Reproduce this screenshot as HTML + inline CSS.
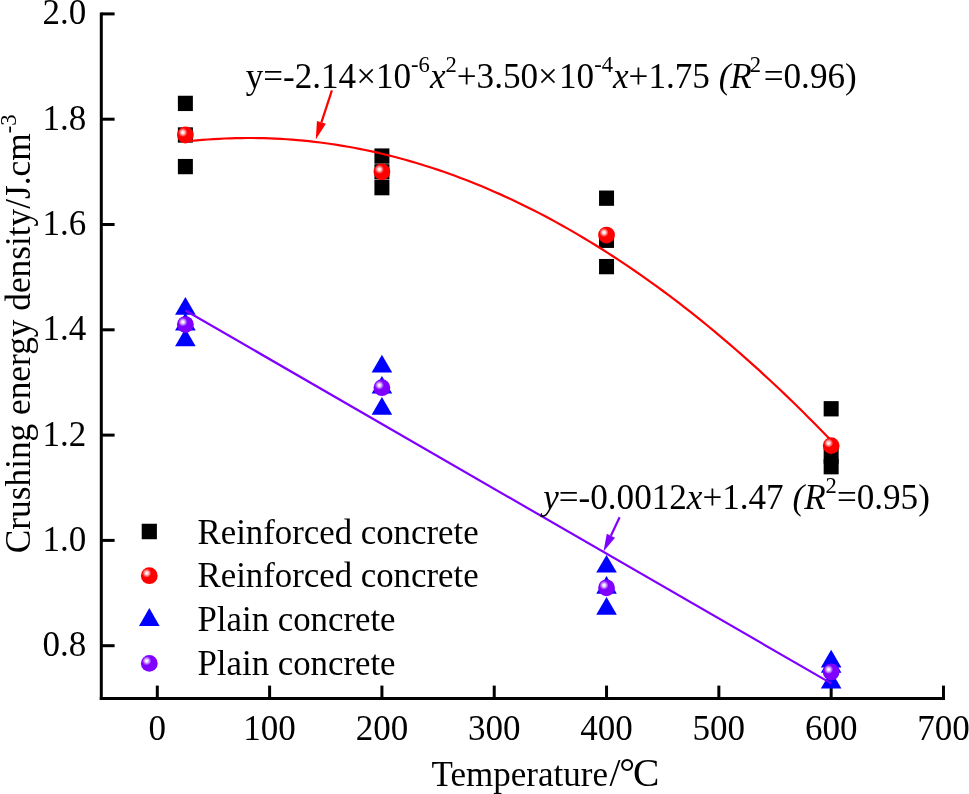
<!DOCTYPE html>
<html><head><meta charset="utf-8"><title>Crushing energy density vs temperature</title>
<style>
html,body{margin:0;padding:0;background:#fff;}
svg{display:block;will-change:transform;}
text{font-family:"Liberation Serif","Times New Roman",serif;font-size:35.0px;fill:#000;}
.i{font-style:italic;}
.s{font-size:22.6px;}
</style></head><body>
<svg width="969" height="794" viewBox="0 0 969 794">
<defs>
<radialGradient id="gr" cx="0.35" cy="0.35" r="0.27" fx="0.35" fy="0.35"><stop offset="0" stop-color="#fff"/><stop offset="0.3" stop-color="#ffe0e0"/><stop offset="1" stop-color="#f00"/></radialGradient>
<radialGradient id="gp" cx="0.35" cy="0.35" r="0.27" fx="0.35" fy="0.35"><stop offset="0" stop-color="#fff"/><stop offset="0.3" stop-color="#f0e0ff"/><stop offset="1" stop-color="#8000ff"/></radialGradient>
</defs>
<rect width="969" height="794" fill="#fff"/>

<g stroke="#000" stroke-width="3" fill="none" stroke-linecap="butt">
<path d="M101.3 12.4V700.1"/>
<path d="M99.8 698.6H945"/>
<path d="M101.3 13.90H114.6"/>
<path d="M101.3 119.20H114.6"/>
<path d="M101.3 224.50H114.6"/>
<path d="M101.3 329.80H114.6"/>
<path d="M101.3 435.10H114.6"/>
<path d="M101.3 540.40H114.6"/>
<path d="M101.3 645.70H114.6"/>
<path d="M157.30 698.6V685.6"/>
<path d="M269.61 698.6V685.6"/>
<path d="M381.92 698.6V685.6"/>
<path d="M494.23 698.6V685.6"/>
<path d="M606.54 698.6V685.6"/>
<path d="M718.85 698.6V685.6"/>
<path d="M831.16 698.6V685.6"/>
<path d="M943.47 698.6V685.6"/>
</g>
<text x="86.3" y="24.30" text-anchor="end">2.0</text>
<text x="86.3" y="129.60" text-anchor="end">1.8</text>
<text x="86.3" y="234.90" text-anchor="end">1.6</text>
<text x="86.3" y="340.20" text-anchor="end">1.4</text>
<text x="86.3" y="445.50" text-anchor="end">1.2</text>
<text x="86.3" y="550.80" text-anchor="end">1.0</text>
<text x="86.3" y="656.10" text-anchor="end">0.8</text>
<text x="157.30" y="740.4" text-anchor="middle">0</text>
<text x="269.61" y="740.4" text-anchor="middle">100</text>
<text x="381.92" y="740.4" text-anchor="middle">200</text>
<text x="494.23" y="740.4" text-anchor="middle">300</text>
<text x="606.54" y="740.4" text-anchor="middle">400</text>
<text x="718.85" y="740.4" text-anchor="middle">500</text>
<text x="831.16" y="740.4" text-anchor="middle">600</text>
<text x="943.47" y="740.4" text-anchor="middle">700</text>
<text x="431.6" y="785.9">Temperature<tspan style="font-size:39.5px" dy="0.4" dx="1.5">/<tspan dx="-1.2">°</tspan><tspan dx="-2">C</tspan></tspan></text>
<text transform="translate(30.4 553.2) rotate(-90)" style="font-size:35.3px">Crushing energy density/J.cm<tspan class="s" dy="-14.4">-3</tspan></text>
<rect x="177.88" y="95.75" width="15" height="15.3" fill="#000"/>
<rect x="177.88" y="127.34" width="15" height="15.3" fill="#000"/>
<rect x="177.88" y="158.94" width="15" height="15.3" fill="#000"/>
<rect x="374.42" y="148.41" width="15" height="15.3" fill="#000"/>
<rect x="374.42" y="164.20" width="15" height="15.3" fill="#000"/>
<rect x="374.42" y="180.00" width="15" height="15.3" fill="#000"/>
<rect x="599.04" y="190.53" width="15" height="15.3" fill="#000"/>
<rect x="599.04" y="232.64" width="15" height="15.3" fill="#000"/>
<rect x="599.04" y="258.97" width="15" height="15.3" fill="#000"/>
<rect x="823.66" y="401.12" width="15" height="15.3" fill="#000"/>
<rect x="823.66" y="448.51" width="15" height="15.3" fill="#000"/>
<rect x="823.66" y="459.04" width="15" height="15.3" fill="#000"/>
<path d="M185.38 296.94L195.68 314.64H175.08Z" fill="#00f"/>
<path d="M185.38 312.74L195.68 330.44H175.08Z" fill="#00f"/>
<path d="M185.38 328.53L195.68 346.23H175.08Z" fill="#00f"/>
<path d="M381.92 354.85L392.22 372.55H371.62Z" fill="#00f"/>
<path d="M381.92 375.91L392.22 393.61H371.62Z" fill="#00f"/>
<path d="M381.92 396.97L392.22 414.67H371.62Z" fill="#00f"/>
<path d="M606.54 554.93L616.84 572.62H596.24Z" fill="#00f"/>
<path d="M606.54 575.98L616.84 593.68H596.24Z" fill="#00f"/>
<path d="M606.54 597.04L616.84 614.74H596.24Z" fill="#00f"/>
<path d="M831.16 649.70L841.46 667.39H820.86Z" fill="#00f"/>
<path d="M831.16 654.96L841.46 672.66H820.86Z" fill="#00f"/>
<path d="M831.16 670.75L841.46 688.45H820.86Z" fill="#00f"/>
<polyline points="185.38,141.62 190.99,141.01 196.61,140.46 202.22,139.96 207.84,139.51 213.46,139.13 219.07,138.80 224.69,138.52 230.30,138.31 235.92,138.15 241.53,138.04 247.15,137.99 252.76,138.00 258.38,138.07 263.99,138.19 269.61,138.36 275.23,138.60 280.84,138.89 286.46,139.23 292.07,139.64 297.69,140.10 303.30,140.61 308.92,141.18 314.53,141.81 320.15,142.49 325.76,143.23 331.38,144.03 337.00,144.88 342.61,145.79 348.23,146.76 353.84,147.78 359.46,148.86 365.07,150.00 370.69,151.19 376.30,152.43 381.92,153.74 387.54,155.10 393.15,156.52 398.77,157.99 404.38,159.52 410.00,161.10 415.61,162.74 421.23,164.44 426.84,166.20 432.46,168.01 438.07,169.88 443.69,171.80 449.31,173.78 454.92,175.82 460.54,177.91 466.15,180.06 471.77,182.26 477.38,184.52 483.00,186.84 488.61,189.22 494.23,191.65 499.85,194.13 505.46,196.68 511.08,199.28 516.69,201.93 522.31,204.64 527.92,207.41 533.54,210.24 539.15,213.12 544.77,216.06 550.38,219.05 556.00,222.10 561.62,225.21 567.23,228.37 572.85,231.59 578.46,234.87 584.08,238.20 589.69,241.59 595.31,245.03 600.92,248.53 606.54,252.09 612.16,255.70 617.77,259.37 623.39,263.10 629.00,266.88 634.62,270.72 640.23,274.62 645.85,278.57 651.46,282.58 657.08,286.64 662.69,290.76 668.31,294.94 673.93,299.17 679.54,303.46 685.16,307.81 690.77,312.21 696.39,316.67 702.00,321.18 707.62,325.75 713.23,330.38 718.85,335.07 724.47,339.81 730.08,344.60 735.70,349.46 741.31,354.36 746.93,359.33 752.54,364.35 758.16,369.43 763.77,374.57 769.39,379.76 775.01,385.00 780.62,390.31 786.24,395.67 791.85,401.08 797.47,406.56 803.08,412.09 808.70,417.67 814.31,423.31 819.93,429.01 825.54,434.76 831.16,440.58" fill="none" stroke="#f00" stroke-width="2.2"/>
<path d="M185.4 310.5L831.2 683.4" stroke="#8000ff" stroke-width="2.2" fill="none"/>
<circle cx="185.38" cy="134.99" r="8.4" fill="url(#gr)"/>
<circle cx="381.92" cy="171.85" r="8.4" fill="url(#gr)"/>
<circle cx="606.54" cy="235.03" r="8.4" fill="url(#gr)"/>
<circle cx="831.16" cy="445.63" r="8.4" fill="url(#gr)"/>
<circle cx="185.38" cy="324.54" r="8.4" fill="url(#gp)"/>
<circle cx="381.92" cy="387.71" r="8.4" fill="url(#gp)"/>
<circle cx="606.54" cy="587.78" r="8.4" fill="url(#gp)"/>
<circle cx="831.16" cy="672.02" r="8.4" fill="url(#gp)"/>
<rect x="141.70" y="523.75" width="15.2" height="15.5" fill="#000"/>
<circle cx="149.30" cy="575.70" r="8.4" fill="url(#gr)"/>
<path d="M149.30 608.10L159.60 626.10H139.00Z" fill="#00f"/>
<circle cx="149.30" cy="663.40" r="8.4" fill="url(#gp)"/>
<text x="197.5" y="543.8" style="font-size:34.8px">Reinforced concrete</text>
<text x="197.5" y="587.4" style="font-size:34.8px">Reinforced concrete</text>
<text x="197.5" y="631.0" style="font-size:34.8px">Plain concrete</text>
<text x="197.5" y="674.6" style="font-size:34.8px">Plain concrete</text>
<text x="245.7" y="87.6" style="font-size:35.12px">y=-2.14×10<tspan class="s" dy="-16.1">-6</tspan><tspan class="i" dy="16.1">x</tspan><tspan class="s" dy="-16.1">2</tspan><tspan dy="16.1">+3.50×</tspan><tspan dx="1.2">10</tspan><tspan class="s" dy="-16.1">-4</tspan><tspan class="i" dy="16.1">x</tspan>+1.75 <tspan class="i">(R</tspan><tspan class="s" dy="-16.1" dx="-2">2</tspan><tspan dy="16.1" dx="2.7">=0.96)</tspan></text>
<text x="543.2" y="509" style="font-size:35.12px"><tspan class="i">y</tspan>=-0.0012<tspan class="i">x</tspan>+1.47 <tspan class="i">(R</tspan><tspan class="s" dy="-16.1">2</tspan><tspan dy="16.1">=0.95)</tspan></text>
<path d="M619.60 517.20L610.89 535.75" stroke="#8000ff" stroke-width="2.2" fill="none"/><path d="M603.50 551.50L606.77 533.82L615.01 537.68Z" fill="#8000ff"/>
<path d="M331.90 90.40L321.41 122.40" stroke="#f00" stroke-width="2.2" fill="none"/><path d="M315.80 139.50L316.94 120.93L325.87 123.86Z" fill="#f00"/>
</svg></body></html>
